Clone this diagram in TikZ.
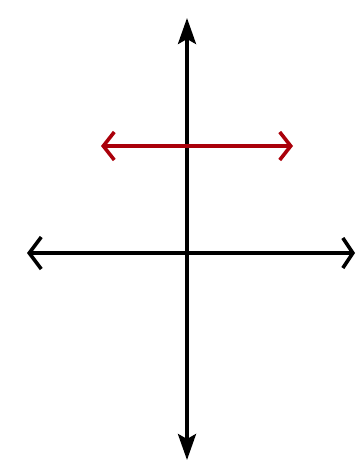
\documentclass[tikz,border=0pt]{standalone}
\usetikzlibrary{arrows.meta}
\definecolor{axred}{RGB}{170,0,10}
\begin{document}
\begin{tikzpicture}[x=1pt,y=-1pt,
  axis/.style={line width=3.6pt,black},
  redline/.style={line width=3.6pt,axred},
  filltip/.style={-{Stealth[length=26pt,width=18pt,inset=5pt]}},
  bartip/.style={{Straight Barb[length=12pt,width=32pt,line width=3.6pt]}-{Straight Barb[length=10pt,width=30pt,line width=3.6pt]}},
  redtip/.style={{Straight Barb[length=11pt,width=28pt,line width=3.6pt]}-{Straight Barb[length=11pt,width=28pt,line width=3.6pt]}}]
\useasboundingbox (0,0) rectangle (360,462);
\coordinate (origin) at (187,253);
\coordinate (ytop) at (187,18);
\coordinate (ybot) at (187,460);
\coordinate (xleft) at (27,253);
\coordinate (xright) at (355,253);
\coordinate (rleft) at (101,146);
\coordinate (rright) at (293,146);
\draw[axis,filltip] (origin) -- (ytop);
\draw[axis,filltip] (origin) -- (ybot);
\draw[axis,bartip] (xleft) -- (xright);
\draw[redline,redtip] (rleft) -- (rright);
\end{tikzpicture}
\end{document}
